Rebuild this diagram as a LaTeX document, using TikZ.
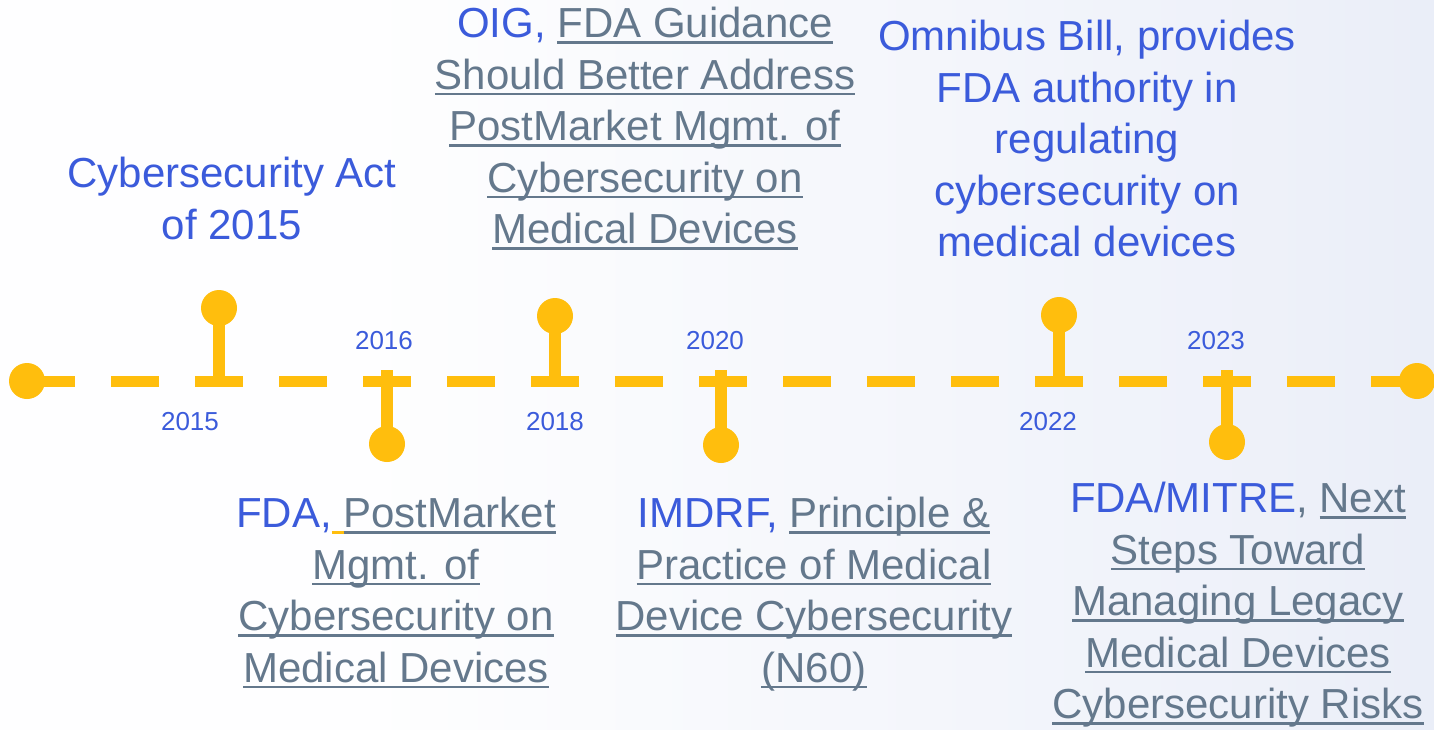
\documentclass[tikz,border=0pt]{standalone}
\usepackage{fontspec}
\setmainfont{Liberation Sans}
\usepackage{xcolor}
\definecolor{TimeAmber}{HTML}{FFBE0D}
\definecolor{TimeBlue}{HTML}{3B5BDB}
\definecolor{TimeSlate}{HTML}{64788C}
\definecolor{WaterTint}{HTML}{D8DFF2}
\usetikzlibrary{positioning}

\newlength{\linkdepth}\setlength{\linkdepth}{6pt}
\newlength{\linkrule}\setlength{\linkrule}{2.4pt}
% linked titles are slate grey and underlined
\newcommand{\doclink}[1]{{\color{TimeSlate}\setbox0\hbox{#1}%
  \rlap{\rule[-\linkdepth]{\wd0}{\linkrule}}\box0}}

\pgfdeclarehorizontalshading{water}{100bp}{color(0bp)=(white); color(38bp)=(white!97!WaterTint); color(70bp)=(white!55!WaterTint); color(100bp)=(WaterTint)}

\begin{document}
\begin{tikzpicture}[
  x=1pt, y=-1pt,
  axis/.style={draw=TimeAmber, line width=11pt, dash pattern=on 48pt off 36pt},
  stem/.style={draw=TimeAmber, line width=12pt},
  knob/.style={circle, fill=TimeAmber, minimum size=36pt, inner sep=0pt},
  year/.style={text=TimeBlue, font=\fontsize{26}{30}\selectfont, inner sep=0pt},
  event/.style={text=TimeBlue, align=center, inner sep=0pt, anchor=north,
                font=\fontsize{42}{51.5}\selectfont},
]
\useasboundingbox (0,0) rectangle (1434,729);
\shade[shading=water] (0,0) rectangle (1434,729);

% the axis with its two end knobs
\node[knob] (start) at (27,381) {};
\node[knob] (stop) at (1417,381) {};
\draw[axis] (start.center) -- (stop.center);

% pins above the axis
\node[knob] (k2015) at (219,308) {};
\coordinate (t2015) at (219,381);
\draw[stem] (k2015.center) -- (t2015);
\node[knob] (k2018) at (555,316) {};
\coordinate (t2018) at (555,381);
\draw[stem] (k2018.center) -- (t2018);
\node[knob] (k2022) at (1059,315) {};
\coordinate (t2022) at (1059,381);
\draw[stem] (k2022.center) -- (t2022);

% pins below the axis
\node[knob] (k2016) at (387,444) {};
\coordinate (t2016) at (387,370);
\draw[stem] (t2016) -- (k2016.center);
\node[knob] (k2020) at (721,445) {};
\coordinate (t2020) at (721,370);
\draw[stem] (t2020) -- (k2020.center);
\node[knob] (k2023) at (1227,442) {};
\coordinate (t2023) at (1227,370);
\draw[stem] (t2023) -- (k2023.center);

% years
\node[year] (y2015) at (190,422) {2015};
\node[year] (y2016) at (384,341) {2016};
\node[year] (y2018) at (555,422) {2018};
\node[year] (y2020) at (715,341) {2020};
\node[year] (y2022) at (1048,422) {2022};
\node[year] (y2023) at (1216,341) {2023};

% events
\node[event] (act) at (232,157) {Cybersecurity Act\\of 2015};
\node[event] (oig) at (645,7)
  {OIG, \doclink{FDA Guidance}\\\doclink{Should Better Address}\\
   \doclink{PostMarket Mgmt. of}\\\doclink{Cybersecurity on}\\
   \doclink{Medical Devices}};
\node[event] (omnibus) at (1087,20)
  {Omnibus Bill, provides\\FDA authority in\\regulating\\
   cybersecurity on\\medical devices};
\node[event] (postmarket) at (396,497)
  {FDA,{\color{TimeAmber}\rule[-\linkdepth]{0.28em}{\linkrule}}\doclink{PostMarket}\\
   \doclink{Mgmt. of}\\\doclink{Cybersecurity on}\\\doclink{Medical Devices}};
\node[event] (imdrf) at (814,497)
  {IMDRF, \doclink{Principle \&}\\\doclink{Practice of Medical}\\
   \doclink{Device Cybersecurity}\\\doclink{(N60)}};
\node[event] (mitre) at (1238,482)
  {FDA/MITRE{\color{TimeSlate},} \doclink{Next}\\\doclink{Steps Toward}\\
   \doclink{Managing Legacy}\\\doclink{Medical Devices}\\
   \doclink{Cybersecurity Risks}};
\end{tikzpicture}
\end{document}
